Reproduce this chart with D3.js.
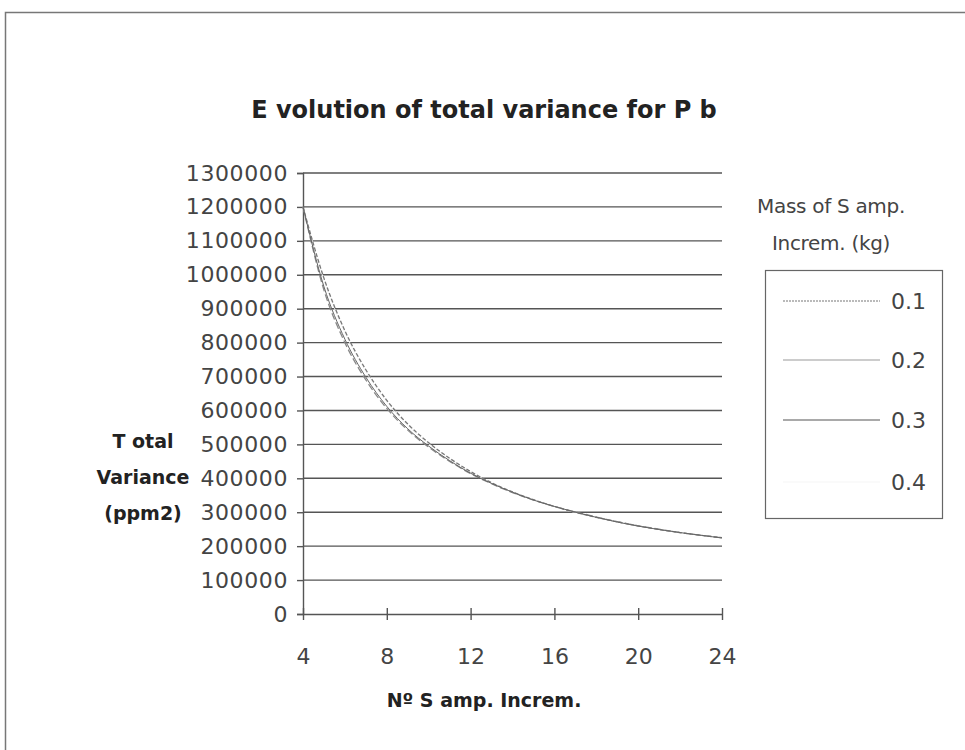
<!DOCTYPE html>
<html>
<head>
<meta charset="utf-8">
<script src="https://cdn.jsdelivr.net/npm/d3@7"></script>
<style>
  body { margin: 0; background: #fff; }
  text { font-family: "DejaVu Sans", "Liberation Sans", sans-serif; }
</style>
</head>
<body>
<div id="chart"></div>
<script>
'use strict';

// number of sample increments
const increments = [4, 5, 6, 7, 8, 9, 10, 11, 12, 13, 14, 15, 16, 17, 18, 19, 20, 21, 22, 23, 24];

// total variance per mass of increment (kg)
const var01 = [1200000, 990000, 835000, 720000, 630000, 560000, 505000, 459000, 420000, 387000, 360000, 337000, 317000, 300000, 285000, 272000, 260000, 249000, 240000, 232000, 225000];
const var02 = [1200000, 955000, 800000, 690000, 606000, 542000, 492000, 450000, 414000, 384000, 358000, 336000, 317000, 301000, 286000, 272000, 260000, 250000, 240000, 232000, 225000];
const var03 = [1200000, 965000, 810000, 698000, 612000, 546000, 495000, 452000, 415000, 385000, 359000, 336000, 317000, 300000, 285000, 271000, 259000, 249000, 240000, 232000, 224000];
const var04 = [1200000, 985000, 830000, 715000, 625000, 555000, 502000, 457000, 418000, 386000, 359000, 336000, 316000, 299000, 284000, 271000, 259000, 249000, 240000, 232000, 225000];

const seriesNames = ['0.1', '0.2', '0.3', '0.4'];
const xTicks = [4, 8, 12, 16, 20, 24];
const yTicks = [0, 100000, 200000, 300000, 400000, 500000, 600000, 700000, 800000, 900000, 1000000, 1100000, 1200000, 1300000];

var width = 965;
var height = 750;
var margin = { top: 173, right: 243, bottom: 136, left: 303 };

let svg = d3.select('#chart').append('svg')
    .attr('width', width)
    .attr('height', height);

// outer frame
svg.append('rect')
    .attr('x', 5.5).attr('y', 12.5)
    .attr('width', 1000).attr('height', 800)
    .attr('fill', 'none')
    .attr('stroke', '#777')
    .attr('stroke-width', 1.5);

let x_scale = d3.scaleLinear().domain([4, 24]).range([margin.left, width - margin.right]);
let y_scale = d3.scaleLinear().domain([0, 1300000]).range([height - margin.bottom, margin.top]);

// gridlines
svg.append('g')
    .selectAll('line')
    .data(yTicks.filter(d => d > 0))
    .join('line')
    .attr('x1', x_scale(4)).attr('x2', x_scale(24))
    .attr('y1', d => y_scale(d)).attr('y2', d => y_scale(d))
    .attr('stroke', '#555')
    .attr('stroke-width', 1.4);

// y axis
let yAxis = svg.append('g')
    .attr('transform', 'translate(' + x_scale(4) + ',0)')
    .call(d3.axisLeft(y_scale).tickValues(yTicks).tickSize(6).tickPadding(9).tickFormat(d3.format('d')));
yAxis.select('.domain').attr('stroke', '#555').attr('stroke-width', 1.4);
yAxis.selectAll('.tick line').attr('stroke', '#555').attr('stroke-width', 1.4);
yAxis.selectAll('.tick text')
    .style('font-size', '22px')
    .style('fill', '#444')
    .attr('letter-spacing', '0.6');

// x axis
let xAxis = svg.append('g')
    .attr('transform', 'translate(0,' + y_scale(0) + ')')
    .call(d3.axisBottom(x_scale).tickValues(xTicks).tickSizeInner(6).tickSizeOuter(0).tickPadding(28));
xAxis.select('.domain').attr('stroke', '#555').attr('stroke-width', 1.4);
xAxis.selectAll('.tick line').attr('stroke', '#555').attr('stroke-width', 1.4).attr('y1', -6);
xAxis.selectAll('.tick text')
    .style('font-size', '22px')
    .style('fill', '#444');

// series
const seriesData = [var04, var01, var02, var03];
const seriesStyle = [
    { stroke: '#f6f6f6', dash: null, w: 1 },
    { stroke: '#777', dash: '4,2', w: 1.3 },
    { stroke: '#888', dash: '7,3', w: 1.3 },
    { stroke: '#666', dash: null, w: 1 }
];

let line = d3.line()
    .x(function (d, i) { return x_scale(increments[i]) })
    .y(function (d) { return y_scale(d) })
    .curve(d3.curveMonotoneX);

seriesData.forEach(function (s, i) {
    svg.append('path')
        .datum(s)
        .attr('fill', 'none')
        .attr('stroke', seriesStyle[i].stroke)
        .attr('stroke-width', seriesStyle[i].w)
        .attr('stroke-dasharray', seriesStyle[i].dash)
        .attr('d', line);
});

// title
svg.append('text')
    .text('E volution of total variance for P b')
    .attr('x', 484).attr('y', 118)
    .attr('text-anchor', 'middle')
    .style('font-size', '24px')
    .style('font-weight', 'bold')
    .style('fill', '#222');

// y axis title
['T otal', 'Variance', '(ppm2)'].forEach(function (t, i) {
    svg.append('text')
        .text(t)
        .attr('x', 143).attr('y', 448 + i * 36)
        .attr('text-anchor', 'middle')
        .style('font-size', '19px')
        .style('font-weight', 'bold')
        .style('fill', '#222');
});

// x axis title
svg.append('text')
    .text('Nº S amp. Increm.')
    .attr('x', 484).attr('y', 707)
    .attr('text-anchor', 'middle')
    .style('font-size', '19px')
    .style('font-weight', 'bold')
    .style('fill', '#222');

// legend
['Mass of S amp.', 'Increm. (kg)'].forEach(function (t, i) {
    svg.append('text')
        .text(t)
        .attr('x', 831).attr('y', 213 + i * 37)
        .attr('text-anchor', 'middle')
        .style('font-size', '20px')
        .style('fill', '#444')
        .attr('letter-spacing', '-0.3');
});

svg.append('rect')
    .attr('x', 765.5).attr('y', 270.5)
    .attr('width', 177).attr('height', 248)
    .attr('fill', 'none')
    .attr('stroke', '#666')
    .attr('stroke-width', 1.2);

const legendStroke = ['#777', '#999', '#555', '#f6f6f6'];
const legendY = [301, 360, 420, 482];
seriesNames.forEach(function (n, i) {
    svg.append('line')
        .attr('x1', 783).attr('x2', 880)
        .attr('y1', legendY[i]).attr('y2', legendY[i])
        .attr('stroke', legendStroke[i])
        .attr('stroke-width', 1.2)
        .attr('stroke-dasharray', i === 0 ? '2,1' : null);
    svg.append('text')
        .text(n)
        .attr('x', 891).attr('y', legendY[i] + 8)
        .style('font-size', '22px')
        .style('fill', '#444');
});
</script>
</body>
</html>
